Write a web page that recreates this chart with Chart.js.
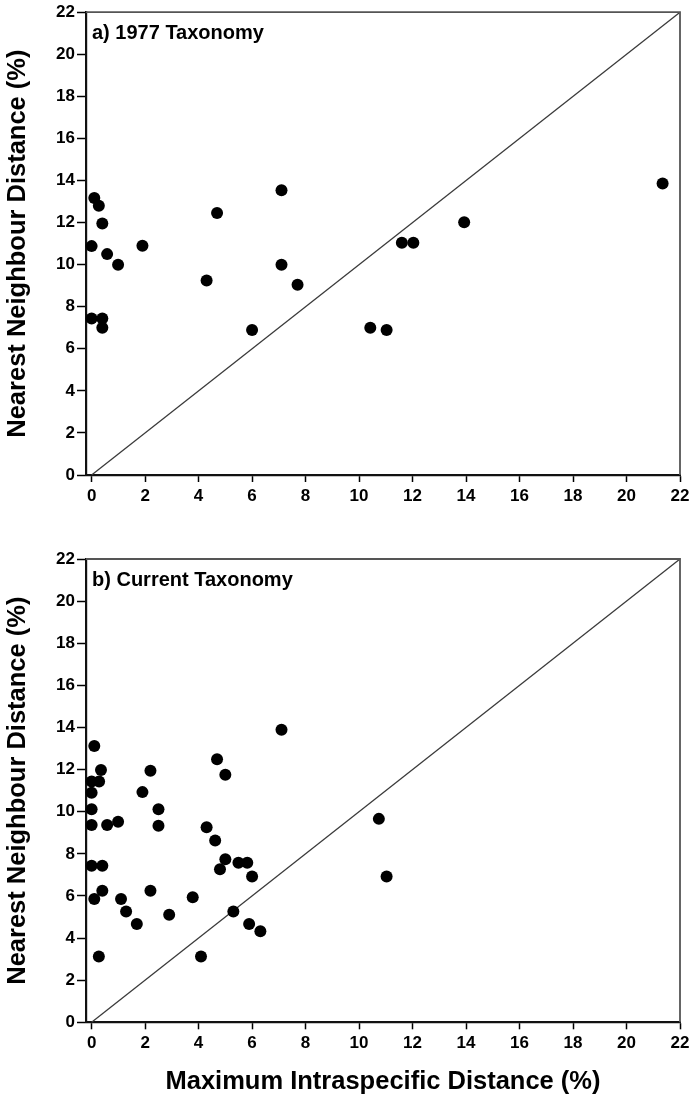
<!DOCTYPE html>
<html>
<head>
<meta charset="utf-8">
<title>Nearest Neighbour vs Maximum Intraspecific Distance</title>
<script src="https://cdn.jsdelivr.net/npm/chart.js@4.4.1/dist/chart.umd.min.js"></script>
<style>
  html, body { margin: 0; padding: 0; background: #fff; }
  .panel { position: absolute; left: 0; width: 696px; }
  #panelTop { top: 0; height: 510px; }
  #panelBottom { top: 530px; height: 573px; }
</style>
</head>
<body>
<div class="panel" id="panelTop"><canvas id="chart1977" width="696" height="510"></canvas></div>
<div class="panel" id="panelBottom"><canvas id="chartCurrent" width="696" height="573"></canvas></div>

<script>
/* ==========================================
   1. Data
   ========================================== */
const xTicks = [0, 2, 4, 6, 8, 10, 12, 14, 16, 18, 20, 22];
const yTicks = [0, 2, 4, 6, 8, 10, 12, 14, 16, 18, 20, 22];

// a) 1977 Taxonomy
const tax1977X = [0.1, 0.27, 0.4, 0, 0.58, 0.99, 1.9, 4.69, 4.3, 7.1, 7.1, 7.7, 6.0, 0, 0.4, 0.4,
                  21.35, 13.93, 11.6, 12.03, 10.42, 11.03];
const tax1977Y = [13.17, 12.8, 11.96, 10.88, 10.5, 10.0, 10.9, 12.46, 9.25, 13.54, 10.0, 9.04, 6.89, 7.44, 7.44, 7.0,
                  13.86, 12.02, 11.04, 11.04, 7.0, 6.89];

// b) Current Taxonomy
const currentX = [0.1, 7.1, 4.69, 5.0, 2.2, 0.35, 0.28, 0, 0, 1.9, 0, 0, 0.58, 0.99, 2.5, 2.5, 4.3, 4.62,
                  5.0, 4.8, 5.49, 5.82, 6.0, 0, 0.4, 0.4, 0.1, 1.1, 1.29, 1.69, 2.2, 2.9, 3.78, 5.3,
                  5.89, 6.31, 0.27, 4.09, 10.74, 11.03];
const currentY = [13.12, 13.89, 12.49, 11.75, 11.95, 11.98, 11.43, 11.43, 10.9, 10.93, 10.12, 9.37, 9.37, 9.52,
                  10.12, 9.33, 9.26, 8.63, 7.74, 7.27, 7.58, 7.58, 6.92, 7.43, 7.43, 6.25, 5.86, 5.86, 5.26,
                  4.67, 6.25, 5.11, 5.94, 5.26, 4.67, 4.32, 3.12, 3.12, 9.66, 6.92];

// 1:1 reference line
const diagX = [0, 22];
const diagY = [0, 22];

const yTitle = 'Nearest Neighbour Distance (%)';
const xTitle = 'Maximum Intraspecific Distance (%)';

/* ==========================================
   2. Helpers
   ========================================== */
Chart.defaults.font.family = 'Arial, "Liberation Sans", sans-serif';
Chart.defaults.color = '#000';

function toPoints(xs, ys) {
  return xs.map((x, i) => ({ x: x, y: ys[i] }));
}

// grey frame on top/right + panel label
const framePlugin = {
  id: 'frame',
  afterDraw(chart, args, opts) {
    const { ctx, chartArea: a } = chart;
    ctx.save();
    ctx.strokeStyle = '#555';
    ctx.lineWidth = 1.8;
    ctx.beginPath();
    ctx.moveTo(a.left, a.top);
    ctx.lineTo(a.right, a.top);
    ctx.lineTo(a.right, a.bottom);
    ctx.stroke();

    ctx.fillStyle = '#000';
    ctx.font = 'bold 20px Arial, "Liberation Sans", sans-serif';
    ctx.textBaseline = 'middle';
    ctx.textAlign = 'left';
    ctx.fillText(opts.label, a.left + 6, a.top + 21);
    ctx.restore();
  }
};

function buildChart(canvasId, xs, ys, label, topPad, xAxisHeight, showXTitle) {
  const ctx = document.getElementById(canvasId).getContext('2d');
  return new Chart(ctx, {
    type: 'scatter',
    data: {
      datasets: [
        {
          label: 'diagonal',
          data: toPoints(diagX, diagY),
          showLine: true,
          borderColor: '#3a3a3a',
          borderWidth: 1.3,
          pointRadius: 0,
          order: 2
        },
        {
          label: label,
          data: toPoints(xs, ys),
          pointRadius: 6,
          pointHoverRadius: 6,
          backgroundColor: '#000',
          borderColor: '#000',
          borderWidth: 0,
          order: 1
        }
      ]
    },
    options: {
      responsive: false,
      animation: false,
      clip: false,
      layout: { padding: { top: topPad, right: 16, left: 0, bottom: 0 } },
      plugins: {
        legend: { display: false },
        tooltip: { enabled: false },
        frame: { label: label }
      },
      scales: {
        x: {
          type: 'linear',
          min: -0.21,
          max: 22,
          afterBuildTicks: (scale) => { scale.ticks = xTicks.map(v => ({ value: v })); },
          afterFit: (scale) => { scale.height = xAxisHeight; },
          grid: { drawOnChartArea: false, tickLength: 7, tickColor: '#000', tickWidth: 1.5 },
          border: { color: '#111', width: 2.2 },
          ticks: { font: { size: 17, weight: 'bold' }, padding: 4, maxRotation: 0 },
          title: {
            display: showXTitle,
            text: xTitle,
            font: { size: 25.5, weight: 'bold' },
            padding: { top: 0, bottom: 6 }
          }
        },
        y: {
          type: 'linear',
          min: 0,
          max: 22,
          afterBuildTicks: (scale) => { scale.ticks = yTicks.map(v => ({ value: v })); },
          afterFit: (scale) => { scale.width = 86; },
          grid: { drawOnChartArea: false, tickLength: 9, tickColor: '#000', tickWidth: 1.5 },
          border: { color: '#111', width: 2.2 },
          ticks: { font: { size: 17, weight: 'bold' }, padding: 2 },
          title: {
            display: true,
            text: yTitle,
            font: { size: 25.5, weight: 'bold' },
            padding: { top: 3, bottom: 0 }
          }
        }
      }
    },
    plugins: [framePlugin]
  });
}

/* ==========================================
   3. Render both panels
   ========================================== */
buildChart('chart1977', tax1977X, tax1977Y, 'a) 1977 Taxonomy', 12, 35, false);
buildChart('chartCurrent', currentX, currentY, 'b) Current Taxonomy', 29, 80.7, true);
</script>
</body>
</html>
